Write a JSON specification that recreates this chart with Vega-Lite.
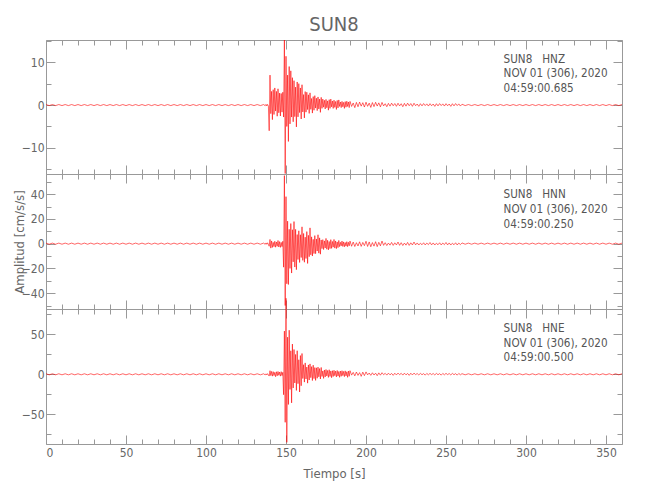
{
"$schema": "https://vega.github.io/schema/vega-lite/v6.json",
"background": "white",
"padding": {"left": 13, "top": 14, "right": 10, "bottom": 10},
"title": {"text": "SUN8", "fontSize": 20, "font": "DejaVu Sans Condensed, sans-serif", "fontWeight": "normal", "color": "#666666", "anchor": "middle", "frame": "group", "offset": 4},
"spacing": 0,
"bounds": "flush",
"config": {
  "view": {"stroke": null},
  "axis": {"domainColor": "#999999", "tickColor": "#999999", "labelColor": "#666666", "labelFont": "DejaVu Sans Condensed, sans-serif", "labelFontSize": 12, "titleFont": "DejaVu Sans Condensed, sans-serif", "titleFontSize": 13, "titleColor": "#666666", "titleFontWeight": "normal", "grid": false, "domainWidth": 1, "tickWidth": 1}
},
"datasets": {
"ann": [
{"p":"z","x":286,"y":10.6,"s":"SUN8\u00a0\u00a0\u00a0HNZ"},
{"p":"z","x":286,"y":7.2,"s":"NOV 01 (306), 2020"},
{"p":"z","x":286,"y":3.7,"s":"04:59:00.685"},
{"p":"n","x":286,"y":39.4,"s":"SUN8\u00a0\u00a0\u00a0HNN"},
{"p":"n","x":286,"y":27.2,"s":"NOV 01 (306), 2020"},
{"p":"n","x":286,"y":15.1,"s":"04:59:00.250"},
{"p":"e","x":286,"y":56.6,"s":"SUN8\u00a0\u00a0\u00a0HNE"},
{"p":"e","x":286,"y":38.4,"s":"NOV 01 (306), 2020"},
{"p":"e","x":286,"y":20.5,"s":"04:59:00.500"}
],
"w": [
{"t":0,"z":0.12,"n":0.45,"e":0.65},{"t":2,"z":-0.12,"n":-0.45,"e":-0.65},{"t":4,"z":0.12,"n":0.45,"e":0.65},{"t":6,"z":-0.12,"n":-0.45,"e":-0.65},
{"t":8,"z":0.12,"n":0.45,"e":0.65},{"t":10,"z":-0.12,"n":-0.45,"e":-0.65},{"t":12,"z":0.12,"n":0.45,"e":0.65},{"t":14,"z":-0.12,"n":-0.45,"e":-0.65},
{"t":16,"z":0.12,"n":0.45,"e":0.65},{"t":18,"z":-0.12,"n":-0.45,"e":-0.65},{"t":20,"z":0.12,"n":0.45,"e":0.65},{"t":22,"z":-0.12,"n":-0.45,"e":-0.65},
{"t":24,"z":0.12,"n":0.45,"e":0.65},{"t":26,"z":-0.12,"n":-0.45,"e":-0.65},{"t":28,"z":0.12,"n":0.45,"e":0.65},{"t":30,"z":-0.12,"n":-0.45,"e":-0.65},
{"t":32,"z":0.12,"n":0.45,"e":0.65},{"t":34,"z":-0.12,"n":-0.45,"e":-0.65},{"t":36,"z":0.12,"n":0.45,"e":0.65},{"t":38,"z":-0.12,"n":-0.45,"e":-0.65},
{"t":40,"z":0.12,"n":0.45,"e":0.65},{"t":42,"z":-0.12,"n":-0.45,"e":-0.65},{"t":44,"z":0.12,"n":0.45,"e":0.65},{"t":46,"z":-0.12,"n":-0.45,"e":-0.65},
{"t":48,"z":0.12,"n":0.45,"e":0.65},{"t":50,"z":-0.12,"n":-0.45,"e":-0.65},{"t":52,"z":0.12,"n":0.45,"e":0.65},{"t":54,"z":-0.12,"n":-0.45,"e":-0.65},
{"t":56,"z":0.12,"n":0.45,"e":0.65},{"t":58,"z":-0.12,"n":-0.45,"e":-0.65},{"t":60,"z":0.12,"n":0.45,"e":0.65},{"t":62,"z":-0.12,"n":-0.45,"e":-0.65},
{"t":64,"z":0.12,"n":0.45,"e":0.65},{"t":66,"z":-0.12,"n":-0.45,"e":-0.65},{"t":68,"z":0.12,"n":0.45,"e":0.65},{"t":70,"z":-0.12,"n":-0.45,"e":-0.65},
{"t":72,"z":0.12,"n":0.45,"e":0.65},{"t":74,"z":-0.12,"n":-0.45,"e":-0.65},{"t":76,"z":0.12,"n":0.45,"e":0.65},{"t":78,"z":-0.12,"n":-0.45,"e":-0.65},
{"t":80,"z":0.12,"n":0.45,"e":0.65},{"t":82,"z":-0.12,"n":-0.45,"e":-0.65},{"t":84,"z":0.12,"n":0.45,"e":0.65},{"t":86,"z":-0.12,"n":-0.45,"e":-0.65},
{"t":88,"z":0.12,"n":0.45,"e":0.65},{"t":90,"z":-0.12,"n":-0.45,"e":-0.65},{"t":92,"z":0.12,"n":0.45,"e":0.65},{"t":94,"z":-0.12,"n":-0.45,"e":-0.65},
{"t":96,"z":0.12,"n":0.45,"e":0.65},{"t":98,"z":-0.12,"n":-0.45,"e":-0.65},{"t":100,"z":0.12,"n":0.45,"e":0.65},{"t":102,"z":-0.12,"n":-0.45,"e":-0.65},
{"t":104,"z":0.12,"n":0.45,"e":0.65},{"t":106,"z":-0.12,"n":-0.45,"e":-0.65},{"t":108,"z":0.12,"n":0.45,"e":0.65},{"t":110,"z":-0.12,"n":-0.45,"e":-0.65},
{"t":112,"z":0.12,"n":0.45,"e":0.65},{"t":114,"z":-0.12,"n":-0.45,"e":-0.65},{"t":116,"z":0.12,"n":0.45,"e":0.65},{"t":118,"z":-0.12,"n":-0.45,"e":-0.65},
{"t":120,"z":0.12,"n":0.45,"e":0.65},{"t":122,"z":-0.12,"n":-0.45,"e":-0.65},{"t":124,"z":0.12,"n":0.45,"e":0.65},{"t":126,"z":-0.12,"n":-0.45,"e":-0.65},
{"t":128,"z":0.12,"n":0.45,"e":0.65},{"t":130,"z":-0.12,"n":-0.45,"e":-0.65},{"t":132,"z":0.12,"n":0.45,"e":0.65},{"t":134,"z":-0.12,"n":-0.45,"e":-0.65},
{"t":136,"z":0.12,"n":0.45,"e":0.65},
{"t":137,"z":-0.15,"n":-0.5,"e":-0.7},{"t":137.5,"z":0.17,"n":0.6,"e":0.6},{"t":138,"z":-0.2,"n":-0.5,"e":-0.7},{"t":138.5,"z":0.15,"n":0.7,"e":0.8},
{"t":139,"z":-0.24,"n":-0.6,"e":-0.9},{"t":139.5,"z":-6,"n":-2.1,"e":-2.2},{"t":140,"z":7,"n":3.4,"e":4.5},{"t":140.5,"z":-2,"n":-3.6,"e":-1.6},
{"t":141,"z":3.2,"n":2.2,"e":3.6},{"t":141.5,"z":-3.4,"n":-3,"e":-2.3},{"t":142,"z":3.6,"n":1.05,"e":3.3},{"t":142.5,"z":-2.2,"n":-2.4,"e":-1.6},
{"t":143,"z":4,"n":1.95,"e":2.45},{"t":143.5,"z":-1.4,"n":-2.85,"e":-3},{"t":144,"z":3.2,"n":1.35,"e":3.15},{"t":144.5,"z":-2.6,"n":-2.1,"e":-1.9},
{"t":145,"z":3.8,"n":2.55,"e":3.5},{"t":145.5,"z":-1.8,"n":-2.7,"e":-1.2},{"t":146,"z":2.8,"n":1.65,"e":2.8},{"t":146.5,"z":-2.55,"n":-3,"e":-2.3},
{"t":147,"z":2.7,"n":1.05,"e":3.3},{"t":147.5,"z":-1.65,"n":-2.4,"e":-1.6},{"t":148,"z":3,"n":1.95,"e":2.45},{"t":148.5,"z":-2.8,"n":-19,"e":-25.5},
{"t":149,"z":15.2,"n":55,"e":54},{"t":149.5,"z":-16,"n":-50,"e":-60},{"t":150,"z":11.4,"n":38,"e":95},{"t":150.5,"z":-5,"n":-32.4,"e":-85},
{"t":151,"z":7,"n":18.2,"e":46.4},{"t":151.5,"z":-8.5,"n":-33,"e":-37.7},{"t":152,"z":9,"n":11.6,"e":55.1},{"t":152.5,"z":-4.4,"n":-20,"e":-18.9},
{"t":153,"z":8,"n":16.25,"e":29.4},{"t":153.5,"z":-2.8,"n":-23.75,"e":-35.7},{"t":154,"z":6.4,"n":11.25,"e":37.8},{"t":154.5,"z":-3.9,"n":-14.7,"e":-17.05},
{"t":155,"z":5.7,"n":17.85,"e":31},{"t":155.5,"z":-2.7,"n":-18.9,"e":-10.85},{"t":156,"z":4.2,"n":11.55,"e":24.8},{"t":156.5,"z":-5.1,"n":-21,"e":-20.15},
{"t":157,"z":5.4,"n":7.35,"e":29.45},{"t":157.5,"z":-2.75,"n":-12.8,"e":-11.7},{"t":158,"z":5,"n":10.4,"e":18.2},{"t":158.5,"z":-1.75,"n":-15.2,"e":-22.1},
{"t":159,"z":4,"n":7.2,"e":23.4},{"t":159.5,"z":-3.25,"n":-11.2,"e":-14.3},{"t":160,"z":4.75,"n":13.6,"e":26},{"t":160.5,"z":-1.6,"n":-13.5,"e":-5.25},
{"t":161,"z":2.45,"n":8.25,"e":12},{"t":161.5,"z":-3,"n":-15,"e":-9.75},{"t":162,"z":3.15,"n":5.25,"e":14.25},{"t":162.5,"z":-1.65,"n":-12,"e":-5.85},
{"t":163,"z":3,"n":9.75,"e":9.1},{"t":163.5,"z":-1.05,"n":-16,"e":-11.05},{"t":164,"z":2.4,"n":6.75,"e":11.7},{"t":164.5,"z":-1.95,"n":-10.5,"e":-7.15},
{"t":165,"z":2.85,"n":12.75,"e":13},{"t":165.5,"z":-1,"n":-9,"e":-4.2},{"t":166,"z":1.54,"n":5.5,"e":9.6},{"t":166.5,"z":-1.87,"n":-10,"e":-7.8},
{"t":167,"z":1.98,"n":3.5,"e":11.4},{"t":167.5,"z":-1.21,"n":-8,"e":-5.4},{"t":168,"z":2.2,"n":6.5,"e":8.4},{"t":168.5,"z":-0.7,"n":-8.1,"e":-7.65},
{"t":169,"z":1.6,"n":3.8,"e":8.1},{"t":169.5,"z":-1.3,"n":-5.95,"e":-4.95},{"t":170,"z":1.9,"n":7.2,"e":9},{"t":170.5,"z":-0.9,"n":-7.65,"e":-3.15},
{"t":171,"z":1.4,"n":4.7,"e":7.2},{"t":171.5,"z":-1.7,"n":-8.5,"e":-5.85},{"t":172,"z":1.8,"n":3,"e":8.55},{"t":172.5,"z":-0.77,"n":-4,"e":-2.7},
{"t":173,"z":1.4,"n":3.25,"e":4.2},{"t":173.5,"z":-0.49,"n":-4.75,"e":-5.1},{"t":174,"z":1.12,"n":2.25,"e":5.4},{"t":174.5,"z":-0.91,"n":-3.5,"e":-3.3},
{"t":175,"z":1.33,"n":4.25,"e":6},{"t":175.5,"z":-0.63,"n":-4.5,"e":-2.1},{"t":176,"z":0.98,"n":2.75,"e":4.8},{"t":176.5,"z":-1.19,"n":-5,"e":-3.9},
{"t":177,"z":1.26,"n":1.75,"e":5.7},{"t":177.5,"z":-0.77,"n":-4,"e":-2.7},{"t":178,"z":1.4,"n":3.25,"e":4.2},{"t":178.5,"z":-0.42,"n":-3.8,"e":-4.25},
{"t":179,"z":0.96,"n":1.8,"e":4.5},{"t":179.5,"z":-0.78,"n":-2.8,"e":-2.75},{"t":180,"z":1.14,"n":3.4,"e":5},{"t":180.5,"z":-0.54,"n":-3.6,"e":-1.75},
{"t":181,"z":0.84,"n":2.2,"e":4},{"t":181.5,"z":-1.02,"n":-4,"e":-3.25},{"t":182,"z":1.08,"n":1.4,"e":4.75},{"t":182.5,"z":-0.66,"n":-3.2,"e":-2.25},
{"t":183,"z":1.2,"n":2.6,"e":3.5},{"t":183.5,"z":-0.32,"n":-2.4,"e":-3.8},{"t":184,"z":0.72,"n":1.1,"e":4.05},{"t":184.5,"z":-0.59,"n":-1.75,"e":-2.5},
{"t":185,"z":0.86,"n":2.1,"e":4.5},{"t":185.5,"z":-0.4,"n":-2.25,"e":-1.6},{"t":186,"z":0.63,"n":1.4,"e":3.6},{"t":186.5,"z":-0.77,"n":-2.5,"e":-2.9},
{"t":187,"z":0.81,"n":0.9,"e":4.3},{"t":187.5,"z":-0.5,"n":-2,"e":-2},{"t":188,"z":0.9,"n":1.6,"e":3.15},{"t":188.5,"z":-0.32,"n":-2.4,"e":-3.8},
{"t":189,"z":0.72,"n":1.1,"e":4.05},{"t":189.5,"z":-0.59,"n":-1.75,"e":-2.5},{"t":190,"z":0.86,"n":2.1,"e":4.5},
{"t":191,"z":-0.32,"n":-2.1,"e":-1.05},{"t":192,"z":0.49,"n":1.3,"e":2.4},{"t":193,"z":-0.6,"n":-2.3,"e":-1.95},{"t":194,"z":0.63,"n":0.8,"e":2.85},
{"t":195,"z":-0.39,"n":-1.85,"e":-1.35},{"t":196,"z":0.7,"n":1.5,"e":2.1},{"t":197,"z":-0.25,"n":-2.2,"e":-2.55},{"t":198,"z":0.56,"n":1,"e":2.7},
{"t":199,"z":-0.46,"n":-1.6,"e":-1.65},{"t":200,"z":0.67,"n":1.95,"e":3},
{"t":201,"z":-0.29,"n":-2.25,"e":-0.7},{"t":202,"z":0.46,"n":1.4,"e":1.6},{"t":203,"z":-0.55,"n":-2.5,"e":-1.3},{"t":204,"z":0.59,"n":0.9,"e":1.9},
{"t":205,"z":-0.36,"n":-2,"e":-0.9},{"t":206,"z":0.65,"n":1.6,"e":1.4},{"t":207,"z":-0.23,"n":-2.4,"e":-1.7},{"t":208,"z":0.52,"n":1.1,"e":1.8},
{"t":209,"z":-0.42,"n":-1.75,"e":-1.1},{"t":210,"z":0.62,"n":2.1,"e":2},
{"t":211,"z":-0.2,"n":-1.35,"e":-0.5},{"t":212,"z":0.32,"n":0.8,"e":1.2},{"t":213,"z":-0.38,"n":-1.5,"e":-1},{"t":214,"z":0.4,"n":0.5,"e":1.4},
{"t":215,"z":-0.25,"n":-1.2,"e":-0.7},{"t":216,"z":0.45,"n":1,"e":1.05},{"t":217,"z":-0.16,"n":-1.4,"e":-1.3},{"t":218,"z":0.36,"n":0.7,"e":1.35},
{"t":219,"z":-0.29,"n":-1.05,"e":-0.8},{"t":220,"z":0.43,"n":1.3,"e":1.5},
{"t":221,"z":-0.2,"n":-1.35,"e":-0.5},{"t":222,"z":0.32,"n":0.8,"e":1.2},{"t":223,"z":-0.38,"n":-1.5,"e":-1},{"t":224,"z":0.4,"n":0.5,"e":1.4},
{"t":225,"z":-0.25,"n":-1.2,"e":-0.7},{"t":226,"z":0.45,"n":1,"e":1.05},{"t":227,"z":-0.16,"n":-1.4,"e":-1.3},{"t":228,"z":0.36,"n":0.7,"e":1.35},
{"t":229,"z":-0.29,"n":-1.05,"e":-0.8},{"t":230,"z":0.43,"n":1.3,"e":1.5},
{"t":231,"z":-0.16,"n":-1,"e":-0.42},{"t":232,"z":0.25,"n":0.6,"e":0.96},{"t":233,"z":-0.3,"n":-1.1,"e":-0.78},{"t":234,"z":0.32,"n":0.39,"e":1.14},
{"t":235,"z":-0.19,"n":-0.88,"e":-0.54},{"t":236,"z":0.35,"n":0.72,"e":0.84},{"t":237,"z":-0.12,"n":-1.05,"e":-1.02},{"t":238,"z":0.28,"n":0.5,"e":1.08},
{"t":239,"z":-0.23,"n":-0.77,"e":-0.66},{"t":240,"z":0.33,"n":0.94,"e":1.2},
{"t":241,"z":-0.16,"n":-1,"e":-0.42},{"t":242,"z":0.25,"n":0.6,"e":0.96},{"t":243,"z":-0.3,"n":-1.1,"e":-0.78},{"t":244,"z":0.32,"n":0.39,"e":1.14},
{"t":245,"z":-0.19,"n":-0.88,"e":-0.54},{"t":246,"z":0.35,"n":0.72,"e":0.84},{"t":247,"z":-0.12,"n":-1.05,"e":-1.02},{"t":248,"z":0.28,"n":0.5,"e":1.08},
{"t":249,"z":-0.23,"n":-0.77,"e":-0.66},{"t":250,"z":0.33,"n":0.94,"e":1.2},
{"t":251,"z":-0.16,"n":-1,"e":-0.42},{"t":252,"z":0.25,"n":0.6,"e":0.96},{"t":253,"z":-0.3,"n":-1.1,"e":-0.78},{"t":254,"z":0.32,"n":0.39,"e":1.14},
{"t":255,"z":-0.19,"n":-0.88,"e":-0.54},{"t":256,"z":0.35,"n":0.72,"e":0.84},{"t":257,"z":-0.12,"n":-1.05,"e":-1.02},{"t":258,"z":0.28,"n":0.5,"e":1.08},
{"t":259,"z":-0.23,"n":-0.77,"e":-0.66},{"t":260,"z":0.2,"n":0.6,"e":0.8},
{"t":262,"z":-0.12,"n":-0.45,"e":-0.65},{"t":264,"z":0.12,"n":0.45,"e":0.65},{"t":266,"z":-0.12,"n":-0.45,"e":-0.65},{"t":268,"z":0.12,"n":0.45,"e":0.65},
{"t":270,"z":-0.12,"n":-0.45,"e":-0.65},{"t":272,"z":0.12,"n":0.45,"e":0.65},{"t":274,"z":-0.12,"n":-0.45,"e":-0.65},{"t":276,"z":0.12,"n":0.45,"e":0.65},
{"t":278,"z":-0.12,"n":-0.45,"e":-0.65},{"t":280,"z":0.12,"n":0.45,"e":0.65},{"t":282,"z":-0.12,"n":-0.45,"e":-0.65},{"t":284,"z":0.12,"n":0.45,"e":0.65},
{"t":286,"z":-0.12,"n":-0.45,"e":-0.65},{"t":288,"z":0.12,"n":0.45,"e":0.65},{"t":290,"z":-0.12,"n":-0.45,"e":-0.65},{"t":292,"z":0.12,"n":0.45,"e":0.65},
{"t":294,"z":-0.12,"n":-0.45,"e":-0.65},{"t":296,"z":0.12,"n":0.45,"e":0.65},{"t":298,"z":-0.12,"n":-0.45,"e":-0.65},{"t":300,"z":0.12,"n":0.45,"e":0.65},
{"t":302,"z":-0.12,"n":-0.45,"e":-0.65},{"t":304,"z":0.12,"n":0.45,"e":0.65},{"t":306,"z":-0.12,"n":-0.45,"e":-0.65},{"t":308,"z":0.12,"n":0.45,"e":0.65},
{"t":310,"z":-0.12,"n":-0.45,"e":-0.65},{"t":312,"z":0.12,"n":0.45,"e":0.65},{"t":314,"z":-0.12,"n":-0.45,"e":-0.65},{"t":316,"z":0.12,"n":0.45,"e":0.65},
{"t":318,"z":-0.12,"n":-0.45,"e":-0.65},{"t":320,"z":0.12,"n":0.45,"e":0.65},{"t":322,"z":-0.12,"n":-0.45,"e":-0.65},{"t":324,"z":0.12,"n":0.45,"e":0.65},
{"t":326,"z":-0.12,"n":-0.45,"e":-0.65},{"t":328,"z":0.12,"n":0.45,"e":0.65},{"t":330,"z":-0.12,"n":-0.45,"e":-0.65},{"t":332,"z":0.12,"n":0.45,"e":0.65},
{"t":334,"z":-0.12,"n":-0.45,"e":-0.65},{"t":336,"z":0.12,"n":0.45,"e":0.65},{"t":338,"z":-0.12,"n":-0.45,"e":-0.65},{"t":340,"z":0.12,"n":0.45,"e":0.65},
{"t":342,"z":-0.12,"n":-0.45,"e":-0.65},{"t":344,"z":0.12,"n":0.45,"e":0.65},{"t":346,"z":-0.12,"n":-0.45,"e":-0.65},{"t":348,"z":0.12,"n":0.45,"e":0.65},
{"t":350,"z":-0.12,"n":-0.45,"e":-0.65},{"t":352,"z":0.12,"n":0.45,"e":0.65},{"t":354,"z":-0.12,"n":-0.45,"e":-0.65},{"t":356,"z":0.12,"n":0.45,"e":0.65},
{"t":358,"z":-0.12,"n":-0.45,"e":-0.65},{"t":360,"z":0.12,"n":0.45,"e":0.65}
]
},
"vconcat": [
{
 "width": 576, "height": 134,
 "layer": [
  {"data": {"name": "w"},
   "mark": {"type": "line", "color": "#ff0000", "strokeWidth": 0.6, "clip": false},
   "encoding": {
    "x": {"field": "t", "type": "quantitative", "scale": {"domain": [0, 360], "nice": false, "zero": false},
      "axis": {"orient": "bottom", "values": [0,10,20,30,40,50,60,70,80,90,100,110,120,130,140,150,160,170,180,190,200,210,220,230,240,250,260,270,280,290,300,310,320,330,340,350,360], "labels": false, "title": null, "tickSize": {"condition": {"test": "datum.value % 50 === 0", "value": -9}, "value": -5}}},
    "y": {"field": "z", "type": "quantitative", "scale": {"domain": [-16.1, 15.2], "nice": false, "zero": false},
      "axis": {"orient": "left", "values": [-15,-10,-5,0,5,10,15], "labelExpr": "datum.value % 10 === 0 ? datum.label : ''", "tickSize": {"condition": {"test": "datum.value % 10 === 0", "value": -9}, "value": -5}, "labelPadding": 11, "title": null}}
   }},
  {"data": {"name": "ann"},
   "transform": [{"filter": "datum.p === 'z'"}],
   "mark": {"type": "text", "align": "left", "baseline": "middle", "fontSize": 11.6, "color": "#555555", "font": "DejaVu Sans Condensed, sans-serif"},
   "encoding": {
    "x": {"field": "x", "type": "quantitative", "scale": {"domain": [0, 360], "nice": false, "zero": false},
      "axis": {"orient": "top", "values": [0,10,20,30,40,50,60,70,80,90,100,110,120,130,140,150,160,170,180,190,200,210,220,230,240,250,260,270,280,290,300,310,320,330,340,350,360], "labels": false, "title": null, "tickSize": {"condition": {"test": "datum.value % 50 === 0", "value": -9}, "value": -5}}},
    "y": {"field": "y", "type": "quantitative", "scale": {"domain": [-16.1, 15.2], "nice": false, "zero": false},
      "axis": {"orient": "right", "values": [-15,-10,-5,0,5,10,15], "labels": false, "title": null, "tickSize": {"condition": {"test": "datum.value % 10 === 0", "value": -9}, "value": -5}}},
    "text": {"field": "s"}
   }}
 ],
 "resolve": {"axis": {"x": "independent", "y": "independent"}}
},
{
 "width": 576, "height": 135,
 "layer": [
  {"data": {"name": "w"},
   "mark": {"type": "line", "color": "#ff0000", "strokeWidth": 0.6, "clip": false},
   "encoding": {
    "x": {"field": "t", "type": "quantitative", "scale": {"domain": [0, 360], "nice": false, "zero": false},
      "axis": {"orient": "bottom", "values": [0,10,20,30,40,50,60,70,80,90,100,110,120,130,140,150,160,170,180,190,200,210,220,230,240,250,260,270,280,290,300,310,320,330,340,350,360], "labels": false, "title": null, "tickSize": {"condition": {"test": "datum.value % 50 === 0", "value": -9}, "value": -5}}},
    "y": {"field": "n", "type": "quantitative", "scale": {"domain": [-52.8, 56.3], "nice": false, "zero": false},
      "axis": {"orient": "left", "values": [-50,-40,-30,-20,-10,0,10,20,30,40,50], "labelExpr": "datum.value % 20 === 0 ? datum.label : ''", "tickSize": {"condition": {"test": "datum.value % 20 === 0", "value": -9}, "value": -5}, "labelPadding": 11, "title": "Amplitud [cm/s/s]", "titlePadding": -5}}
   }},
  {"data": {"name": "ann"},
   "transform": [{"filter": "datum.p === 'n'"}],
   "mark": {"type": "text", "align": "left", "baseline": "middle", "fontSize": 11.6, "color": "#555555", "font": "DejaVu Sans Condensed, sans-serif"},
   "encoding": {
    "x": {"field": "x", "type": "quantitative", "scale": {"domain": [0, 360], "nice": false, "zero": false},
      "axis": {"orient": "top", "values": [0,10,20,30,40,50,60,70,80,90,100,110,120,130,140,150,160,170,180,190,200,210,220,230,240,250,260,270,280,290,300,310,320,330,340,350,360], "labels": false, "title": null, "tickSize": {"condition": {"test": "datum.value % 50 === 0", "value": -9}, "value": -5}}},
    "y": {"field": "y", "type": "quantitative", "scale": {"domain": [-52.8, 56.3], "nice": false, "zero": false},
      "axis": {"orient": "right", "values": [-50,-40,-30,-20,-10,0,10,20,30,40,50], "labels": false, "title": null, "tickSize": {"condition": {"test": "datum.value % 20 === 0", "value": -9}, "value": -5}}},
    "text": {"field": "s"}
   }}
 ],
 "resolve": {"axis": {"x": "independent", "y": "independent"}}
},
{
 "width": 576, "height": 135,
 "layer": [
  {"data": {"name": "w"},
   "mark": {"type": "line", "color": "#ff0000", "strokeWidth": 0.6, "clip": false},
   "encoding": {
    "x": {"field": "t", "type": "quantitative", "scale": {"domain": [0, 360], "nice": false, "zero": false},
      "axis": {"orient": "bottom", "values": [0,10,20,30,40,50,60,70,80,90,100,110,120,130,140,150,160,170,180,190,200,210,220,230,240,250,260,270,280,290,300,310,320,330,340,350,360], "labelExpr": "datum.value % 50 === 0 ? datum.label : ''", "tickSize": {"condition": {"test": "datum.value % 50 === 0", "value": -9}, "value": -5}, "labelPadding": 12, "title": "Tiempo [s]", "titlePadding": 9}},
    "y": {"field": "e", "type": "quantitative", "scale": {"domain": [-87.1, 81.6], "nice": false, "zero": false},
      "axis": {"orient": "left", "values": [-75,-50,-25,0,25,50,75], "labelExpr": "datum.value % 50 === 0 ? datum.label : ''", "tickSize": {"condition": {"test": "datum.value % 50 === 0", "value": -9}, "value": -5}, "labelPadding": 11, "title": null}}
   }},
  {"data": {"name": "ann"},
   "transform": [{"filter": "datum.p === 'e'"}],
   "mark": {"type": "text", "align": "left", "baseline": "middle", "fontSize": 11.6, "color": "#555555", "font": "DejaVu Sans Condensed, sans-serif"},
   "encoding": {
    "x": {"field": "x", "type": "quantitative", "scale": {"domain": [0, 360], "nice": false, "zero": false},
      "axis": {"orient": "top", "values": [0,10,20,30,40,50,60,70,80,90,100,110,120,130,140,150,160,170,180,190,200,210,220,230,240,250,260,270,280,290,300,310,320,330,340,350,360], "labels": false, "title": null, "tickSize": {"condition": {"test": "datum.value % 50 === 0", "value": -9}, "value": -5}}},
    "y": {"field": "y", "type": "quantitative", "scale": {"domain": [-87.1, 81.6], "nice": false, "zero": false},
      "axis": {"orient": "right", "values": [-75,-50,-25,0,25,50,75], "labels": false, "title": null, "tickSize": {"condition": {"test": "datum.value % 50 === 0", "value": -9}, "value": -5}}},
    "text": {"field": "s"}
   }}
 ],
 "resolve": {"axis": {"x": "independent", "y": "independent"}}
}
]
}
